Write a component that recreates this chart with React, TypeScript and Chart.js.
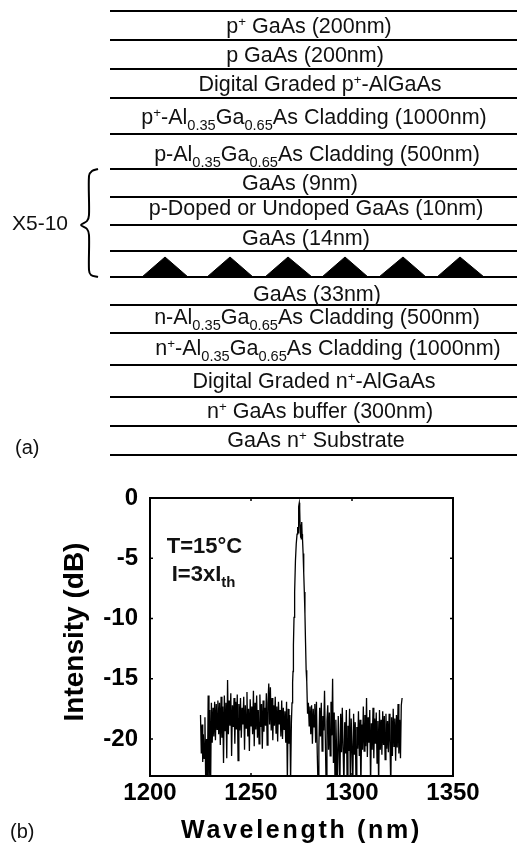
import React, { useEffect, useRef } from "react";
import { Chart, registerables } from "chart.js";

Chart.register(...registerables);

const FONT = '"Liberation Sans", Arial, sans-serif';

// ---- spectrum (b) ----
const wavelengths = [
  1225.0,1225.4,1225.8,1226.1,
  1226.4,1226.8,1227.2,1227.6,1228.0,1228.4,1228.8,1229.2,1229.6,1230.0,
  1230.4,1230.8,1231.2,1231.6,1232.0,1232.4,1232.8,1233.2,1233.6,1234.0,
  1234.4,1234.8,1235.2,1235.6,1236.0,1236.4,1236.8,1237.2,1237.6,1238.0,
  1238.4,1238.8,1239.2,1239.6,1240.0,1240.4,1240.8,1241.2,1241.6,1242.0,
  1242.4,1242.8,1243.2,1243.6,1244.0,1244.4,1244.8,1245.2,1245.6,1246.0,
  1246.4,1246.8,1247.2,1247.6,1248.0,1248.4,1248.8,1249.2,1249.6,1250.0,
  1250.4,1250.8,1251.2,1251.6,1252.0,1252.4,1252.8,1253.2,1253.6,1254.0,
  1254.4,1254.8,1255.2,1255.6,1256.0,1256.4,1256.8,1257.2,1257.6,1258.0,
  1258.4,1258.8,1259.2,1259.6,1260.0,1260.4,1260.8,1261.2,1261.6,1262.0,
  1262.4,1262.8,1263.2,1263.6,1264.0,1264.4,1264.8,1265.2,1265.6,1266.0,
  1266.4,1266.8,1267.2,1267.6,1268.0,1268.4,1268.8,1269.2,1269.6,1270.0,
  1270.3,1270.6,1270.8,1271.0,1271.3,1271.6,1272.0,1272.4,1272.8,1273.1,
  1273.3,1273.5,1273.7,1273.9,1274.1,1274.3,1274.5,1274.7,1274.9,1275.1,
  1275.3,1275.5,1275.8,1276.1,1276.4,1276.7,1277.0,1277.3,1277.6,1278.0,
  1278.4,1278.8,1279.2,1279.6,1280.0,1280.4,1280.8,1281.2,1281.6,1282.0,
  1282.4,1282.8,1283.2,1283.6,1284.0,1284.4,1284.8,1285.2,1285.6,1286.0,
  1286.4,1286.8,1287.2,1287.6,1288.0,1288.4,1288.8,1289.2,1289.6,1290.0,
  1290.4,1290.8,1291.2,1291.6,1292.0,1292.4,1292.8,1293.2,1293.6,1294.0,
  1294.4,1294.8,1295.2,1295.6,1296.0,1296.4,1296.8,1297.2,1297.6,1298.0,
  1298.4,1298.8,1299.2,1299.6,1300.0,1300.4,1300.8,1301.2,1301.6,1302.0,
  1302.4,1302.8,1303.2,1303.6,1304.0,1304.4,1304.8,1305.2,1305.6,1306.0,
  1306.4,1306.8,1307.2,1307.6,1308.0,1308.4,1308.8,1309.2,1309.6,1310.0,
  1310.4,1310.8,1311.2,1311.6,1312.0,1312.4,1312.8,1313.2,1313.6,1314.0,
  1314.4,1314.8,1315.2,1315.6,1316.0,1316.4,1316.8,1317.2,1317.6,1318.0,
  1318.4,1318.8,1319.2,1319.6,1320.0,1320.4,1320.8,1321.2,1321.6,1322.0,
  1322.4,1322.8,1323.2,1323.6,1324.0,1324.4,1324.8,
];
const intensityDb = [
  -18.0,-21.2,-18.8,-21.9,
  -19.6,-21.6,-18.2,-24.0,-20.0,-24.0,-16.4,-24.0,-17.6,-24.0,
  -17.0,-20.3,-17.4,-19.8,-16.9,-20.1,-17.1,-19.2,-16.8,-19.6,
  -17.0,-20.5,-16.5,-19.9,-17.3,-22.0,-16.4,-19.3,-17.0,-21.6,
  -15.1,-19.6,-16.8,-18.9,-16.2,-21.4,-17.2,-19.0,-16.6,-20.4,
  -16.9,-19.2,-16.3,-21.8,-17.1,-19.3,-16.6,-19.9,-17.4,-18.8,
  -16.5,-20.9,-17.2,-19.1,-16.1,-19.8,-17.5,-21.0,-16.7,-18.9,
  -17.3,-19.6,-16.0,-20.6,-17.0,-19.2,-16.4,-19.9,-17.6,-20.4,
  -16.3,-19.0,-17.1,-20.8,-16.8,-19.4,-17.4,-18.9,-16.2,-20.5,
  -17.0,-15.4,-18.8,-15.7,-19.3,-16.6,-20.1,-17.2,-18.9,-16.5,
  -19.5,-17.3,-20.2,-16.9,-18.8,-17.6,-19.8,-16.8,-20.0,-17.4,
  -19.2,-17.7,-20.3,-16.9,-23.5,-17.5,-20.4,-18.0,-23.5,-18.6,
  -17.0,-15.3,-14.4,-12.2,-9.9,-7.8,-5.2,-3.8,-3.0,-2.4,
  -2.9,-1.5,-0.7,-0.4,-0.9,-2.3,-3.3,-2.2,-3.4,-2.0,
  -3.0,-3.4,-4.6,-6.2,-7.8,-9.6,-12.0,-14.3,-15.2,-17.9,
  -17.0,-18.9,-17.3,-19.6,-17.2,-20.4,-17.5,-19.0,-17.1,-20.3,
  -16.9,-21.2,-24.0,-20.6,-17.4,-19.8,-17.0,-21.0,-18.1,-19.3,
  -16.0,-20.0,-24.0,-18.5,-17.2,-20.9,-17.8,-21.4,-16.9,-19.7,
  -15.0,-22.0,-17.8,-24.0,-18.4,-21.0,-24.0,-18.1,-20.6,-24.0,
  -17.9,-21.1,-17.4,-20.8,-24.0,-18.6,-21.2,-17.6,-24.0,-18.9,
  -21.0,-17.5,-24.0,-18.3,-20.7,-24.0,-17.9,-21.3,-18.6,-24.0,
  -19.0,-20.8,-17.7,-21.4,-18.4,-24.0,-18.8,-20.9,-17.3,-21.0,
  -18.0,-20.6,-16.6,-21.5,-18.2,-20.3,-17.6,-24.0,-18.7,-20.9,
  -17.4,-21.6,-18.3,-20.4,-17.8,-22.0,-18.5,-24.0,-17.6,-20.9,
  -18.4,-21.3,-17.7,-20.5,-18.1,-21.7,-17.9,-20.8,-18.5,-21.1,
  -17.9,-20.3,-24.0,-18.2,-21.4,-17.5,-20.6,-18.3,-21.8,-18.0,
  -20.7,-17.1,-21.2,-18.4,-21.6,-17.2,-16.6,
];
const xTickValues = [1200, 1250, 1300, 1350];
const yTickValues = [0, -5, -10, -15, -20];
const xLabel = "Wavelength (nm)";
const yLabel = "Intensity (dB)";
const noteLines = ["T=15°C", "I=3xI_th_"];
const noteCentres = [1227, 1226.5];
const noteLevels = [-4.6, -6.85];

// ---- layer stack (a) ----
const layerBoundaries = [11, 40, 69, 98, 134, 169, 197, 225, 251, 277, 305, 333, 365, 397, 426, 455];
const layerLabels = [
  "p^+^ GaAs (200nm)",
  "p GaAs (200nm)",
  "Digital Graded p^+^-AlGaAs",
  "p^+^-Al_0.35_Ga_0.65_As Cladding (1000nm)",
  "p-Al_0.35_Ga_0.65_As Cladding (500nm)",
  "GaAs (9nm)",
  "p-Doped or Undoped GaAs (10nm)",
  "GaAs (14nm)",
  "GaAs (33nm)",
  "n-Al_0.35_Ga_0.65_As Cladding (500nm)",
  "n^+^-Al_0.35_Ga_0.65_As Cladding (1000nm)",
  "Digital Graded n^+^-AlGaAs",
  "n^+^ GaAs buffer (300nm)",
  "GaAs n^+^ Substrate",
];
const labelCentres = [309, 305, 320, 314, 317, 300, 316, 306, 317, 317, 328, 314, 320, 316];
const labelBaselines = [33, 62, 91, 124, 161, 190, 215, 245, 301, 324, 355, 388, 418, 447];
const dotStarts = [142, 207, 265, 322, 379, 437];
const dotApexes = [165, 230, 288, 345, 403, 460];
const dotEnds = [188, 253, 312, 368, 426, 484];
const braceX = [98, 92, 89, 89, 87, 81, 87, 89, 89, 91, 98];
const braceY = [169, 171, 176, 215, 221, 225, 229, 235, 270, 275, 277];
const sideLabels = ["X5-10", "(a)"];
const sideX = [12, 15];
const sideY = [230, 454];
const sideSizes = [21, 20];

// Draws "a^sup^ b_sub_" markup centred on cx, from the baseline y.
function drawRich(ctx: CanvasRenderingContext2D, markup: string, cx: number, y: number, size: number, weight: string) {
  const parts = markup.split(/(\^[^^]*\^|_[^_]*_)/).filter(Boolean).map((p) => {
    if (p[0] === "^") return { t: p.slice(1, -1), s: size * 0.62, dy: -size * 0.33 };
    if (p[0] === "_") return { t: p.slice(1, -1), s: size * 0.68, dy: size * 0.3 };
    return { t: p, s: size, dy: 0 };
  });
  const widths = parts.map((p) => {
    ctx.font = `${weight} ${p.s}px ${FONT}`;
    return ctx.measureText(p.t).width;
  });
  let x = cx - widths.reduce((a, b) => a + b, 0) / 2;
  ctx.textAlign = "left";
  ctx.textBaseline = "alphabetic";
  ctx.fillStyle = "#111";
  parts.forEach((p, i) => {
    ctx.font = `${weight} ${p.s}px ${FONT}`;
    ctx.fillText(p.t, x, y + p.dy);
    x += widths[i];
  });
}

export default function App() {
  const topRef = useRef<HTMLCanvasElement>(null);
  const bottomRef = useRef<HTMLCanvasElement>(null);

  useEffect(() => {
    const stackText = {
      id: "stackText",
      afterDatasetsDraw(chart: any) {
        const { ctx, scales } = chart;
        ctx.save();
        layerLabels.forEach((t, i) =>
          drawRich(ctx, t, scales.x.getPixelForValue(labelCentres[i]), scales.y.getPixelForValue(labelBaselines[i]), 21.5, "normal")
        );
        sideLabels.forEach((t, i) => {
          ctx.font = `${sideSizes[i]}px ${FONT}`;
          ctx.textAlign = "left";
          ctx.textBaseline = "alphabetic";
          ctx.fillStyle = "#111";
          ctx.fillText(t, scales.x.getPixelForValue(sideX[i]), scales.y.getPixelForValue(sideY[i]));
        });
        ctx.restore();
      },
    };

    const stack = new Chart(topRef.current!, {
      type: "line",
      data: {
        datasets: [
          ...layerBoundaries.map((y) => ({
            data: [{ x: 110, y }, { x: 517, y }],
            borderColor: "#000",
            borderWidth: 2,
            pointRadius: 0,
          })),
          ...dotApexes.map((apex, i) => ({
            data: [{ x: dotStarts[i], y: 277 }, { x: apex, y: 257 }, { x: dotEnds[i], y: 277 }],
            borderColor: "#000",
            borderWidth: 1,
            backgroundColor: "#000",
            fill: { value: 277 },
            pointRadius: 0,
          })),
          {
            data: braceX.map((x, i) => ({ x, y: braceY[i] })),
            borderColor: "#000",
            borderWidth: 2,
            pointRadius: 0,
            tension: 0.3,
          },
        ],
      },
      options: {
        responsive: false,
        animation: false,
        layout: { padding: 0 },
        plugins: { legend: { display: false }, tooltip: { enabled: false } },
        scales: {
          x: { type: "linear", min: 0, max: 517, display: false },
          y: { type: "linear", min: 0, max: 480, reverse: true, display: false },
        },
      },
      plugins: [stackText],
    } as any);

    const frame = {
      id: "frame",
      beforeDraw(chart: any) {
        if (chart.$wrapped) return;
        chart.$wrapped = true;
        const { ctx } = chart;
        const sx = chart.scales.x;
        const sy = chart.scales.y;
        const tx = sx.drawTitle.bind(sx);
        sx.drawTitle = () => {
          ctx.save();
          (ctx as any).letterSpacing = "2.7px";
          tx();
          ctx.restore();
        };
        const ty = sy.drawTitle.bind(sy);
        sy.drawTitle = () => {
          ctx.save();
          ctx.translate(0, -5);
          ty();
          ctx.restore();
        };
      },
      afterDatasetsDraw(chart: any) {
        const { ctx, chartArea: a, scales } = chart;
        ctx.save();
        ctx.strokeStyle = "#000";
        ctx.lineWidth = 2;
        ctx.strokeRect(a.left, a.top, a.right - a.left, a.bottom - a.top);
        ctx.lineWidth = 1.5;
        ctx.beginPath();
        xTickValues.forEach((v) => {
          const x = scales.x.getPixelForValue(v);
          ctx.moveTo(x, a.top);
          ctx.lineTo(x, a.top + 3);
          ctx.moveTo(x, a.bottom);
          ctx.lineTo(x, a.bottom - 3);
        });
        yTickValues.forEach((v) => {
          const y = scales.y.getPixelForValue(v);
          ctx.moveTo(a.left, y);
          ctx.lineTo(a.left + 3, y);
          ctx.moveTo(a.right, y);
          ctx.lineTo(a.right - 3, y);
        });
        ctx.stroke();
        noteLines.forEach((t, i) =>
          drawRich(ctx, t, scales.x.getPixelForValue(noteCentres[i]), scales.y.getPixelForValue(noteLevels[i]), 22, "bold")
        );
        ctx.font = `20px ${FONT}`;
        ctx.fillStyle = "#111";
        ctx.textAlign = "left";
        ctx.textBaseline = "alphabetic";
        ctx.fillText("(b)", 10, 358);
        ctx.restore();
      },
    };

    const spectrum = new Chart(bottomRef.current!, {
      type: "line",
      data: {
        datasets: [
          {
            data: wavelengths.map((x, i) => ({ x, y: intensityDb[i] })),
            borderColor: "#000",
            borderWidth: 1.3,
            pointRadius: 0,
            tension: 0,
          },
        ],
      },
      options: {
        responsive: false,
        animation: false,
        layout: { padding: { top: 18, right: 64, bottom: 0, left: 0 } },
        plugins: { legend: { display: false }, tooltip: { enabled: false } },
        scales: {
          x: {
            type: "linear",
            min: 1200,
            max: 1350,
            afterBuildTicks: (s: any) => {
              s.ticks = xTickValues.map((value) => ({ value }));
            },
            afterFit: (s: any) => {
              s.height = 70;
            },
            grid: { display: false, drawTicks: false },
            border: { display: false },
            ticks: {
              maxRotation: 0,
              autoSkip: false,
              padding: 3,
              color: "#000",
              font: { family: FONT, size: 24, weight: "bold" },
              callback: (v: any) => String(v),
            },
            title: {
              display: true,
              text: xLabel,
              color: "#000",
              padding: { top: 0, bottom: 0 },
              font: { family: FONT, size: 25, weight: "bold" },
            },
          },
          y: {
            type: "linear",
            min: -23.07,
            max: 0,
            afterBuildTicks: (s: any) => {
              s.ticks = yTickValues.map((value) => ({ value }));
            },
            afterFit: (s: any) => {
              s.width = 150;
              s.paddingTop = 0;
              s.paddingBottom = 0;
            },
            grid: { display: false, drawTicks: false },
            border: { display: false },
            ticks: {
              padding: 12,
              autoSkip: false,
              color: "#000",
              font: { family: FONT, size: 24, weight: "bold" },
              callback: (v: any) => String(v),
            },
            title: {
              display: true,
              text: yLabel,
              color: "#000",
              padding: { top: 58, bottom: 0 },
              font: { family: FONT, size: 28, weight: "bold" },
            },
          },
        },
      },
      plugins: [frame],
    } as any);

    return () => {
      stack.destroy();
      spectrum.destroy();
    };
  }, []);

  return (
    <div style={{ position: "absolute", left: 0, top: 0, width: 517, height: 846, background: "#fff", overflow: "hidden" }}>
      <canvas ref={topRef} width={517} height={480} style={{ position: "absolute", left: 0, top: 0 }} />
      <canvas ref={bottomRef} width={517} height={366} style={{ position: "absolute", left: 0, top: 480 }} />
    </div>
  );
}
